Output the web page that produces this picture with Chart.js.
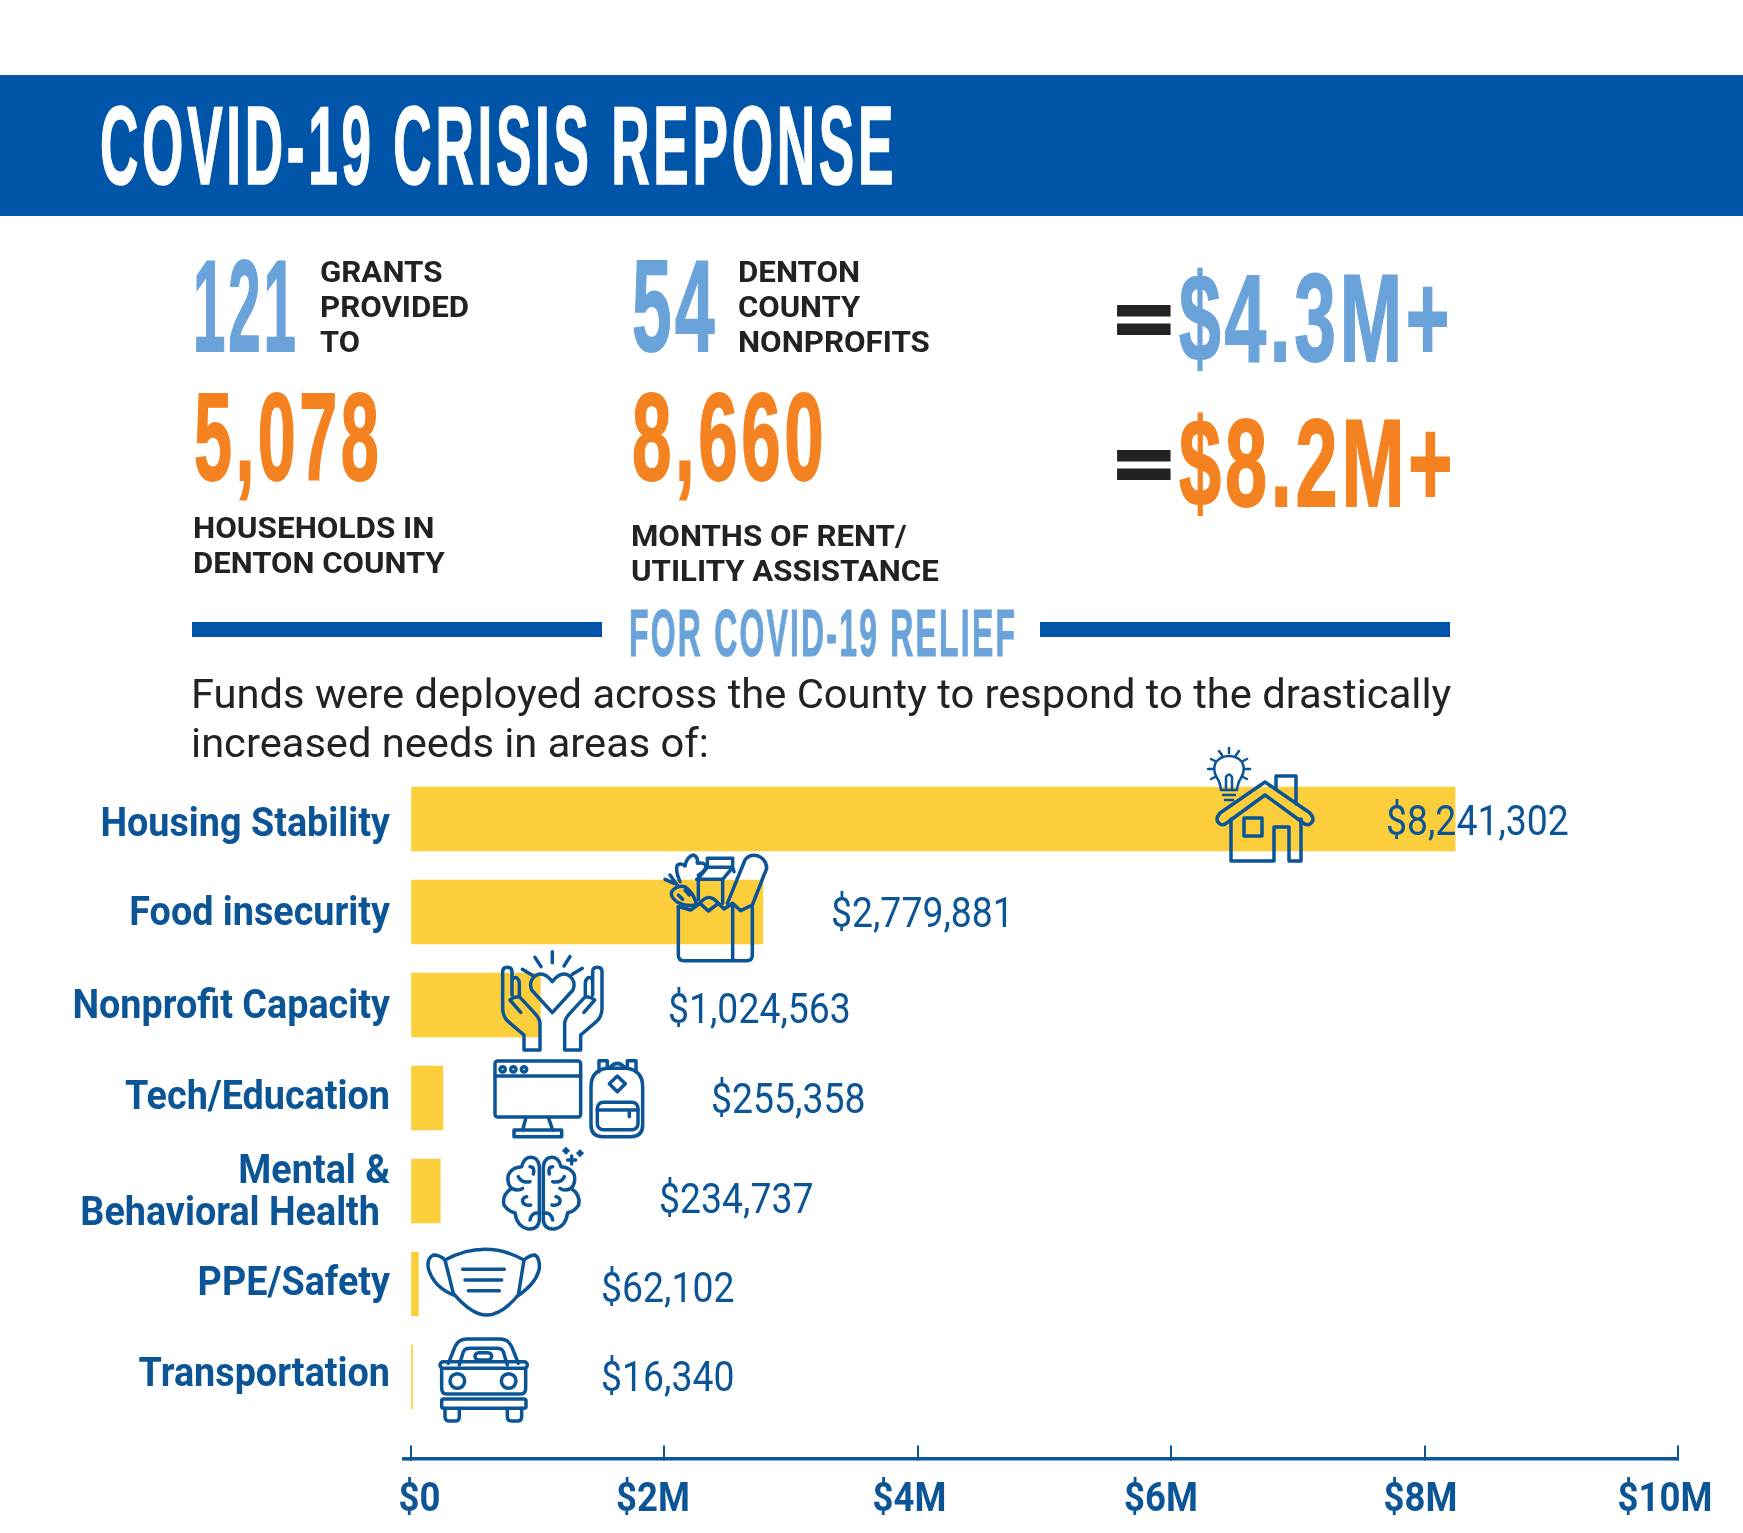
<!DOCTYPE html>
<html>
<head>
<meta charset="utf-8">
<title>COVID-19 Crisis Reponse</title>
<script src="https://cdn.jsdelivr.net/npm/chart.js@4"></script>
<style>
  html, body { margin: 0; padding: 0; background: #fff; }
  #page { position: relative; width: 1743px; height: 1533px; overflow: hidden; }
  #chart { position: absolute; left: 0; top: 0; }
  #icons { position: absolute; left: 0; top: 0; pointer-events: none; }
  #icons * { fill: none; stroke: #0b5496; stroke-linecap: round; stroke-linejoin: round; }
  .band { position: absolute; background: #0155a8; }
  .t { position: absolute; white-space: nowrap; transform-origin: 0 50%; line-height: 1; }
  .big { font-family: "Liberation Sans", sans-serif; font-weight: 700; letter-spacing: 5px; -webkit-text-stroke: 1.5px currentColor; }
  .small { font-family: Roboto, sans-serif; font-weight: 700; font-size: 30px; color: #222; }
  .blue { color: #6aa3da; }
  .orange { color: #f58220; }
</style>
</head>
<body>
<div id="page">
  <canvas id="chart" width="1743" height="1533"></canvas>

  <div class="band" style="left:0;top:75px;width:1743px;height:141px"></div>
  <div class="band" style="left:192px;top:622px;width:410px;height:15px"></div>
  <div class="band" style="left:1040px;top:622px;width:410px;height:15px"></div>

  <div class="t big" data-w="797" data-h="80" style="left:100px;top:145px;color:#fff;letter-spacing:7px">COVID-19 CRISIS REPONSE</div>

  <div class="t big blue" data-w="106" data-h="94" style="left:193px;top:305px">121</div>
  <div class="t small" data-w="122" style="left:320px;top:272px">GRANTS</div>
  <div class="t small" data-w="149" style="left:320px;top:307px">PROVIDED</div>
  <div class="t small" data-w="40" style="left:320px;top:342px">TO</div>

  <div class="t big blue" data-w="86" data-h="94" style="left:632px;top:305px">54</div>
  <div class="t small" data-w="122" style="left:738px;top:272px">DENTON</div>
  <div class="t small" data-w="122" style="left:738px;top:307px">COUNTY</div>
  <div class="t small" data-w="192" style="left:738px;top:342px">NONPROFITS</div>

  <div class="t big orange" data-w="188" data-h="89" style="left:194px;top:437px">5,078</div>
  <div class="t big orange" data-w="195" data-h="89" style="left:632px;top:437px">8,660</div>

  <div class="t small" data-w="241" style="left:193px;top:528px">HOUSEHOLDS IN</div>
  <div class="t small" data-w="252" style="left:193px;top:563px">DENTON COUNTY</div>
  <div class="t small" data-w="276" style="left:631px;top:536px">MONTHS OF RENT/</div>
  <div class="t small" data-w="308" style="left:631px;top:571px">UTILITY ASSISTANCE</div>

  <div class="t big" data-w="60" data-h="50" style="left:1116px;top:319px;color:#222;-webkit-text-stroke:6px #222">=</div>
  <div class="t big blue" data-w="274" data-h="89" style="left:1179px;top:318px">$4.3M+</div>
  <div class="t big" data-w="60" data-h="50" style="left:1116px;top:464px;color:#222;-webkit-text-stroke:6px #222">=</div>
  <div class="t big orange" data-w="277" data-h="89" style="left:1179px;top:463px">$8.2M+</div>

  <div class="t big blue" data-w="388" data-h="48" style="left:629px;top:633px;letter-spacing:7px">FOR COVID-19 RELIEF</div>

  <div class="t" data-w="1260" style="left:191px;top:694px;font:400 41px Roboto,sans-serif;color:#222">Funds were deployed across the County to respond to the drastically</div>
  <div class="t" data-w="518" style="left:191px;top:743px;font:400 41px Roboto,sans-serif;color:#222">increased needs in areas of:</div>

  <svg id="icons" width="1743" height="1533" viewBox="0 0 1743 1533">
    <!-- house and bulb -->
    <g stroke-width="3.5">
      <path d="M1265 782 L1310 813 Q1316 820 1310 824 Q1306 826 1302 822 L1265 795 L1228 822 Q1224 826 1220 824 Q1214 820 1220 813 Z"/>
      <path d="M1231 819 V861 H1274 V827 H1289 V861 H1301 V819"/>
      <path d="M1276 789 V776 H1296 V804"/>
      <rect x="1244" y="818" width="18" height="18"/>
    </g>
    <g stroke-width="2.5">
      <path d="M1221 790 Q1220 782 1217 778 Q1212 770 1216 762 Q1221 756 1229 756 Q1237 756 1242 762 Q1246 770 1241 778 Q1238 782 1237 790 Z"/>
      <path d="M1226 790 V777 M1232 790 V777 M1226 777 Q1229 772 1232 777"/>
      <path d="M1223 795 H1235 M1225 800 H1233"/>
      <path d="M1229 748 V753 M1219 751 L1222 755 M1239 751 L1236 755 M1211 759 L1215 761 M1247 759 L1243 761 M1208 769 H1213 M1250 769 H1245 M1211 779 L1215 777 M1247 779 L1243 777"/>
    </g>
    <!-- the rest were traced at three times their size -->
    <g transform="translate(650 840) scale(0.33333)" stroke-width="10.5">
      <path d="M85 200 V345 Q85 362 102 362 H290 Q307 362 307 345 V200 M248 195 V362"/>
      <path d="M85 200 L122 210 L150 190 L175 213 L205 190 L222 207 L248 190 L272 212 L307 195"/>
      <path d="M232 190 L285 60 Q300 40 325 48 Q350 60 350 85 L307 195"/>
      <path d="M172 55 H248 V82 H172 Z M172 82 L145 115 V180 M248 82 L218 118 V190 M145 118 H218 M248 82 L252 95"/>
      <path d="M65 155 Q80 135 105 140 Q130 155 140 195 Q105 200 80 185 Q60 170 65 155 Z M85 165 L98 178 M105 150 L118 165"/>
      <path d="M72 130 L45 118 M60 105 L85 140"/>
      <path d="M90 125 Q75 90 82 75 Q95 68 105 78 Q110 50 130 45 Q145 50 142 70 Q165 65 168 80 Q165 95 145 105 Q150 115 140 118"/>
      <path d="M150 190 Q175 155 205 190"/>
    </g>
    <g transform="translate(400 940) scale(0.33333)" stroke-width="10.5">
      <g id="hand">
        <path d="M372 330 V285 L325 245 Q308 230 308 205 V95 Q308 82 322 82 Q336 82 336 95 V165 M336 120 Q345 108 352 115 Q358 120 358 130 V170 Q340 170 330 180 L362 217 M358 170 L400 215 Q420 235 420 250 V330 H372"/>
      </g>
      <use href="#hand" transform="translate(914 0) scale(-1 1)"/>
      <path d="M457 218 L395 150 Q385 125 405 108 Q430 90 457 125 Q484 90 509 108 Q529 125 519 150 Z"/>
      <path d="M457 35 V68 M405 52 L423 80 M510 50 L492 78 M367 88 L397 106 M547 85 L517 103"/>

      <rect x="285" y="363" width="257" height="168" rx="8"/>
      <path d="M285 408 H542 M378 532 L368 570 M445 532 L458 570"/>
      <circle cx="308" cy="388" r="8"/><circle cx="340" cy="388" r="8"/><circle cx="372" cy="388" r="8"/>
      <rect x="342" y="570" width="143" height="20"/>

      <path d="M573 440 Q573 392 620 385 H680 Q728 392 728 440 V555 Q728 590 693 590 H608 Q573 590 573 555 Z"/>
      <path d="M597 395 V362 H622 V383 M682 383 V362 H708 V395 M632 380 Q652 360 672 380"/>
      <path d="M652 408 L676 431 L652 455 L628 431 Z"/>
      <rect x="592" y="487" width="122" height="82" rx="18"/>
      <path d="M592 510 H714 M688 510 V530"/>

      <g id="brain">
        <path d="M418 680 Q415 652 392 652 Q372 652 365 680 Q335 682 325 705 Q320 730 335 745 Q305 765 312 795 Q325 815 345 818 Q350 860 385 867 Q415 870 418 840 Z"/>
        <path d="M390 680 Q405 680 400 702 M335 745 Q355 755 368 745 M380 770 Q362 775 370 790 Q380 798 392 795 M418 820 Q395 815 390 840 M355 710 Q365 730 390 725"/>
      </g>
      <use href="#brain" transform="translate(848 0) scale(-1 1)"/>
      <path d="M515 648 V672 M503 660 H527 M498 626 V638 M492 632 H504 M540 634 V646 M534 640 H546"/>

      <path d="M135 960 Q195 928 255 928 Q315 928 372 960 L355 1065 Q305 1125 260 1125 Q215 1125 160 1060 Z"/>
      <path d="M135 960 Q120 945 100 945 Q80 955 85 985 Q100 1040 160 1065 M372 960 Q390 945 405 945 Q420 955 418 985 Q410 1030 350 1070"/>
      <path d="M188 988 H313 M195 1020 H305 M205 1052 H298"/>

      <path d="M145 1270 L165 1220 Q175 1197 200 1197 H300 Q325 1197 335 1220 L355 1270"/>
      <path d="M178 1275 L190 1235 Q195 1225 210 1225 H290 Q305 1225 310 1235 L322 1275"/>
      <rect x="120" y="1265" width="262" height="20" rx="10"/>
      <path d="M125 1285 V1345 Q125 1362 140 1362 H362 Q377 1362 377 1345 V1285"/>
      <circle cx="172" cy="1323" r="22"/><circle cx="326" cy="1323" r="22"/>
      <rect x="225" y="1238" width="50" height="22" rx="11"/>
      <rect x="125" y="1377" width="253" height="28" rx="6"/>
      <path d="M135 1405 V1430 Q135 1443 150 1443 H165 Q178 1443 178 1430 V1405 M322 1405 V1430 Q322 1443 337 1443 H352 Q365 1443 365 1430 V1405"/>
    </g>
  </svg>
</div>

<script>
// Chart data
const categories = ["Housing Stability", "Food insecurity", "Nonprofit Capacity", "Tech/Education", ["Mental &", "Behavioral Health"], "PPE/Safety", "Transportation"];
const amounts = [8241302, 2779881, 1024563, 255358, 234737, 62102, 16340];
const amountLabels = ["$8,241,302", "$2,779,881", "$1,024,563", "$255,358", "$234,737", "$62,102", "$16,340"];
const xTicks = [0, 2000000, 4000000, 6000000, 8000000, 10000000];
const xTickLabels = ["$0", "$2M", "$4M", "$6M", "$8M", "$10M"];

const BLUE = "#0b5496";
const YELLOW = "#fdce3c";

// Where each amount label sits, left edge and vertical shift from the bar centre
const labelLeft = [1386, 831, 668, 711, 659, 601, 601];
const labelShift = [5, 4, 7, 4, 11, 7, 3];

// Small nudges for the axis labels, which are not quite centred in the picture
const yLabelShift = [7, 3, 3, 1, 3, 1, -1];
const xLabelShift = [9, -11, -8, -10, -4, -13];

// No condensed font here, so squeeze Roboto sideways
const CATEGORY_SQUEEZE = 0.92;
const TICK_SQUEEZE = 0.89;
const AMOUNT_SQUEEZE = 0.89;

// Fit the header text to the widths and cap heights measured on the picture
document.querySelectorAll(".t").forEach(el => {
    el.style.marginTop = -el.offsetHeight / 2 + "px";
    let sy = 1;
    if (el.dataset.h) {
        el.style.fontSize = "100px";
        el.style.marginTop = "-50px";
        sy = Number(el.dataset.h) / 72;
    }
    const sx = Number(el.dataset.w) / el.offsetWidth;
    el.style.transform = "scale(" + sx + "," + sy + ")";
});

function squeezedText(ctx, text, x, y, squeeze) {
    ctx.save();
    ctx.translate(x, y);
    ctx.scale(squeeze, 1);
    ctx.fillText(text, 0, 0);
    ctx.restore();
}

// Amount labels and the axis labels, drawn from the scales' own ticks
const labelPlugin = {
    id: "labels",
    afterDraw(chart) {
        const ctx = chart.ctx;
        const xScale = chart.scales.x;
        const yScale = chart.scales.y;
        ctx.save();
        ctx.fillStyle = BLUE;
        ctx.textBaseline = "middle";

        ctx.font = "400 42px Roboto, sans-serif";
        ctx.textAlign = "left";
        chart.getDatasetMeta(0).data.forEach((bar, i) => {
            squeezedText(ctx, amountLabels[i], labelLeft[i], bar.y + labelShift[i], AMOUNT_SQUEEZE);
        });

        ctx.font = "700 41px Roboto, sans-serif";
        ctx.textAlign = "right";
        categories.forEach((label, i) => {
            const y = yScale.getPixelForTick(i) + yLabelShift[i];
            if (Array.isArray(label)) {
                squeezedText(ctx, label[0], 390, y - 21, CATEGORY_SQUEEZE);
                squeezedText(ctx, label[1], 380, y + 21, CATEGORY_SQUEEZE);
            } else {
                squeezedText(ctx, label, 390, y, CATEGORY_SQUEEZE);
            }
        });

        ctx.textAlign = "center";
        const axisY = yScale.getPixelForValue(xScale.options.position.y);
        xTicks.forEach((v, i) => {
            squeezedText(ctx, xTickLabels[i], xScale.getPixelForValue(v) + xLabelShift[i], axisY + 42, TICK_SQUEEZE);
        });

        // the axis line runs a little past zero on the left
        ctx.fillRect(402, axisY - 1.75, 9, 3.5);
        ctx.restore();
    }
};

new Chart(document.getElementById("chart"), {
    type: "bar",
    plugins: [labelPlugin],
    data: {
        labels: categories,
        datasets: [{
            data: amounts,
            backgroundColor: YELLOW,
            barThickness: 64
        }]
    },
    options: {
        indexAxis: "y",
        responsive: false,
        animation: false,
        layout: { padding: { top: 772.5, bottom: 109.5, right: 65, left: 0 } },
        plugins: { legend: { display: false }, tooltip: { enabled: false } },
        scales: {
            x: {
                position: { y: 6.88 },
                min: 0,
                max: 10000000,
                afterBuildTicks(scale) {
                    scale.ticks = xTicks.map(v => ({ value: v }));
                },
                border: { color: BLUE, width: 3.5 },
                grid: { drawOnChartArea: false, drawTicks: true, tickLength: -15, color: BLUE, lineWidth: 2 },
                ticks: { display: false }
            },
            y: {
                afterFit(scale) { scale.width = 410.5; },
                border: { display: false },
                grid: { display: false },
                ticks: { display: false }
            }
        }
    }
});
</script>
</body>
</html>
